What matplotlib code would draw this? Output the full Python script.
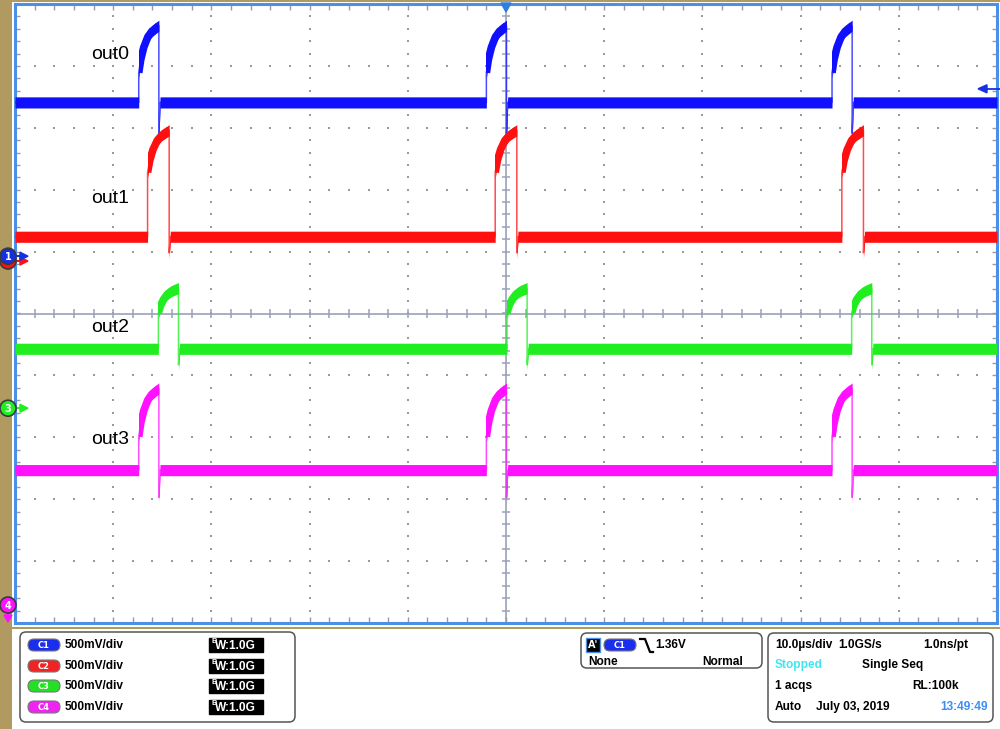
import numpy as np
import matplotlib
matplotlib.use('Agg')
import matplotlib.pyplot as plt
from matplotlib.patches import FancyBboxPatch, Rectangle, Circle, Polygon

# scope settings
volts_per_div = 0.5
time_per_div = 10.0  # us
n_div = 10

channels = ['C1', 'C2', 'C3', 'C4']
labels = ['out0', 'out1', 'out2', 'out3']
colors = ['#1010ff', '#ff1010', '#20ee20', '#ff10ff']
# ground reference marker of each channel (div from screen centre)
offsets_div = [0.91, 0.88, -1.53, -4.71]

# levels in volts
base_v = [1.25, 0.18, 0.48, 1.09]
jump_v = [1.49, 0.70, 0.77, 1.36]
peak_v = [1.87, 1.04, 0.97, 1.75]
under_v = [1.00, 0.05, 0.35, 0.87]

# rising edges in us (trigger at 0) and pulse widths
rise_c1 = [-37.4, -2.0, 33.2]
rise_c2 = [-36.5, -1.1, 34.2]
rise_c3 = [-35.4, 0.1, 35.2]
rise_c4 = [-37.4, -2.0, 33.2]
rises = [rise_c1, rise_c2, rise_c3, rise_c4]
width_us = [2.05, 2.2, 2.05, 2.05]

# pulse top: fraction of width -> fraction from jump level to peak
shape_t = [0, 0.1, 0.25, 0.45, 0.65, 0.85, 1.0]
shape_v = [0, 0.28, 0.54, 0.76, 0.88, 0.95, 1.0]

trig_level = 1.36

W, H = 1000, 729
fig = plt.figure(figsize=(W / 100, H / 100), dpi=100)
fig.patch.set_facecolor('white')

tan = '#b09a60'
border = '#4a8fe8'
gridc = '#9a9a9a'
linec = '#9aa2b8'

# background ui layer
bg = fig.add_axes([0, 0, 1, 1], zorder=0)
bg.set_xlim(0, W)
bg.set_ylim(H, 0)
bg.axis('off')
bg.add_patch(Rectangle((0, 0), 12, H, color=tan, lw=0))
bg.add_patch(Rectangle((0, 0), W, 2, color=tan, lw=0))
bg.add_patch(Rectangle((0, 627), W, 2, color=tan, lw=0))

ax = fig.add_axes([15 / W, 1 - 623 / H, 982 / W, 619 / H], zorder=1)
half_t = n_div / 2 * time_per_div
ax.set_xlim(-half_t, half_t)
ax.set_ylim(-n_div / 2, n_div / 2)
ax.set_xticks([])
ax.set_yticks([])
for s in ax.spines.values():
    s.set_color(border)
    s.set_linewidth(2.2)

# graticule
minor_x = np.arange(-half_t, half_t + 0.01, time_per_div / 5)
minor_y = np.arange(-5, 5.01, 0.2)
for gx in np.arange(-40, 41, 10):
    if gx != 0:
        ax.scatter(np.full(minor_y.size, gx), minor_y, s=1.5, marker='s',
                   color=gridc, lw=0, zorder=1)
for gy in range(-4, 5):
    if gy != 0:
        ax.scatter(minor_x, np.full(minor_x.size, gy), s=1.5, marker='s',
                   color=gridc, lw=0, zorder=1)
ax.axhline(0, color=linec, lw=1.2, zorder=1)
ax.axvline(0, color=linec, lw=1.2, zorder=1)
ax.vlines(minor_x, -0.07, 0.07, color=linec, lw=1.1, zorder=1)
ax.hlines(minor_y, -0.45, 0.45, color=linec, lw=1.1, zorder=1)
ax.vlines(minor_x, 5 - 0.09, 5, color=gridc, lw=1, zorder=1)
ax.vlines(minor_x, -5, -5 + 0.09, color=gridc, lw=1, zorder=1)
ax.hlines(minor_y, -half_t, -half_t + 0.55, color=gridc, lw=1, zorder=1)
ax.hlines(minor_y, half_t - 0.55, half_t, color=gridc, lw=1, zorder=1)

# traces
band = 0.09
for i in range(4):
    xs, vs = [-half_t], [base_v[i]]
    w = width_us[i]
    for r in rises[i]:
        xs += [r, r]
        vs += [base_v[i], jump_v[i]]
        top_x, top_v = [], []
        for f, s in zip(shape_t, shape_v):
            top_x.append(r + f * w)
            top_v.append(jump_v[i] + s * (peak_v[i] - jump_v[i]))
        xs += top_x
        vs += top_v
        # thick noisy top of the pulse, kept between the two edges
        top, = ax.plot(top_x, offsets_div[i] + np.array(top_v) / volts_per_div,
                       color=colors[i], lw=5.5, solid_capstyle='butt', zorder=3)
        top.set_clip_path(Rectangle((r, -n_div), w, 2 * n_div, transform=ax.transData))
        xs += [r + w, r + w + 0.12]
        vs += [under_v[i], base_v[i]]
    xs.append(half_t)
    vs.append(base_v[i])
    xs = np.array(xs)
    ys = offsets_div[i] + np.array(vs) / volts_per_div
    ax.fill_between(xs, ys - band, ys + band, color=colors[i], lw=0, zorder=3)
    ax.plot(xs, ys, color=colors[i], lw=1.1, alpha=0.75, zorder=3)

label_x = -42.2
label_y = [4.18, 1.85, -0.23, -2.03]
for i in range(4):
    ax.text(label_x, label_y[i], labels[i], fontsize=14, family='Liberation Sans',
            va='center', ha='left', zorder=4)

# foreground ui layer (markers and readouts)
fg = fig.add_axes([0, 0, 1, 1], zorder=2)
fg.set_xlim(0, W)
fg.set_ylim(H, 0)
fg.axis('off')


def to_px(x, y):
    dx, dy = ax.transData.transform((x, y))
    return dx, H - dy


def marker(y, color, num, arrow='right', zo=5):
    if arrow == 'right':
        fg.plot([12, 22], [y, y], color=color, lw=1.5, zorder=zo)
        fg.add_patch(Polygon([[20, y - 4], [28, y], [20, y + 4]], color=color, zorder=zo))
    else:
        fg.plot([8, 8], [y, y + 12], color=color, lw=1.5, zorder=zo)
        fg.add_patch(Polygon([[4, y + 10], [12, y + 10], [8, y + 17]], color=color, zorder=zo))
    fg.add_patch(Circle((8, y), 8, facecolor=color, edgecolor='#3a3a3a', lw=1.2, zorder=zo + 1))
    if num:
        fg.text(8, y + 0.5, num, color='white', fontsize=7, fontweight='bold',
                ha='center', va='center', zorder=zo + 2)


_, y2 = to_px(0, offsets_div[1])
_, y1 = to_px(0, offsets_div[0])
_, y3 = to_px(0, offsets_div[2])
_, y4 = to_px(0, offsets_div[3])
marker(y2 + 2, colors[1], '', zo=5)  # hidden behind C1
marker(y1 - 1, '#1530e0', '1', zo=8)
marker(y3, colors[2], '3', zo=5)
marker(y4, colors[3], '4', arrow='down', zo=5)

# trigger position and level
tx, _ = to_px(0, 0)
fg.add_patch(Polygon([[tx - 5, 3], [tx + 5, 3], [tx, 12]], color='#2f7de0', zorder=6))
_, ty = to_px(0, offsets_div[0] + trig_level / volts_per_div)
fg.plot([985, 1000], [ty, ty], color='#1530e0', lw=1.3, zorder=6)
fg.add_patch(Polygon([[978, ty], [987, ty - 4], [987, ty + 4]], color='#1530e0', zorder=6))

font = dict(family='Liberation Sans', fontweight='bold', fontsize=8.6, va='center')


def panel(x0, y0, x1, y1):
    bg.add_patch(FancyBboxPatch((x0, y0), x1 - x0, y1 - y0,
                                boxstyle='round,pad=0,rounding_size=6',
                                facecolor='white', edgecolor='#555555', lw=1.1))


def pill(x, y, color, txt):
    fg.add_patch(FancyBboxPatch((x, y - 6), 32, 12, boxstyle='round,pad=0,rounding_size=6',
                                facecolor=color, edgecolor='#777777', lw=0.8, zorder=5))
    fg.text(x + 16, y + 0.5, txt, color='white', fontsize=6, fontweight='bold',
            ha='center', va='center', zorder=6)


panel(20, 632, 295, 722)
row_y = [645, 666, 686, 707]
pill_colors = ['#1a2ef0', '#f02424', '#24e024', '#f024f0']
for i in range(4):
    pill(28, row_y[i], pill_colors[i], channels[i])
    fg.text(65, row_y[i], '%dmV/div' % int(volts_per_div * 1000), **font)
    fg.add_patch(Rectangle((209, row_y[i] - 7), 54, 14, color='black', zorder=5))
    fg.text(211, row_y[i] - 3.5, 'B', color='white', fontsize=5.5, fontweight='bold',
            family='Liberation Sans', va='center', zorder=6)
    fg.text(215, row_y[i] + 1, 'W:1.0G', color='white', zorder=6, **font)

panel(581, 633, 762, 668)
fg.add_patch(Rectangle((586, 638), 14, 14, facecolor='black', edgecolor='#4a8fe8', lw=1, zorder=5))
fg.text(593, 645.5, "A'", color='white', fontsize=7, fontweight='bold', ha='center',
        va='center', zorder=6)
pill(604, 645, '#1a2ef0', 'C1')
fg.plot([640, 645, 650, 653], [639, 639, 652, 652], color='black', lw=1.6, zorder=6)
fg.text(655, 645, '%.2fV' % trig_level, **font)
fg.text(588, 662, 'None', **font)
fg.text(743, 662, 'Normal', ha='right', **font)

panel(768, 633, 993, 722)
fg.text(775, 645, '10.0\u00b5s/div', **font)
fg.text(838, 645, '1.0GS/s', **font)
fg.text(923, 645, '1.0ns/pt', **font)
fg.text(775, 665, 'Stopped', color='#3ee6f2', **font)
fg.text(862, 665, 'Single Seq', **font)
fg.text(775, 686, '1 acqs', **font)
fg.text(912, 686, 'RL:100k', **font)
fg.text(775, 707, 'Auto', **font)
fg.text(816, 707, 'July 03, 2019', **font)
fg.text(940, 707, '13:49:49', color='#3a8ef5', **font)

fig.savefig('out.png', dpi=100)
